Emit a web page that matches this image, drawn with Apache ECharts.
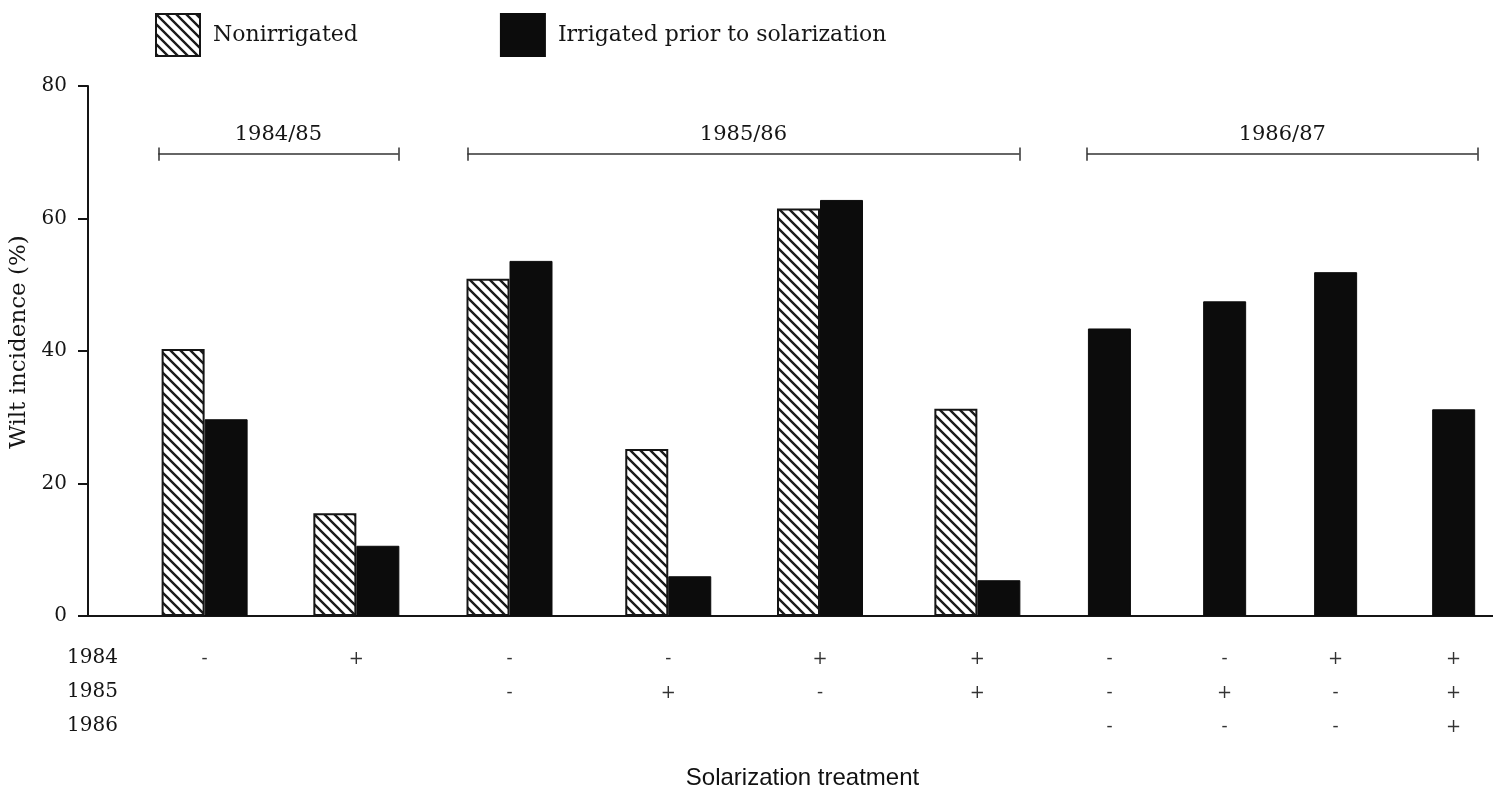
<!DOCTYPE html>
<html>
<head>
<meta charset="utf-8">
<script src="https://cdn.jsdelivr.net/npm/echarts@6/dist/echarts.min.js"></script>
<style>
html,body{margin:0;padding:0;background:#fff;}
#chart{width:1493px;height:793px;}
</style>
</head>
<body>
<div id="chart"></div>
<script>
// ---- data ----
// position of each solarization treatment along the (hidden) x scale, 0..100
const treatmentPos = [8.3, 19.1, 30.0, 41.3, 52.1, 63.3, 72.7, 80.9, 88.8, 97.2];
// solarized (+) or not (-) in each year, per treatment
const sol1984 = ['-', '+', '-', '-', '+', '+', '-', '-', '+', '+'];
const sol1985 = ['',  '',  '-', '+', '-', '+', '-', '+', '-', '+'];
const sol1986 = ['',  '',  '',  '',  '',  '',  '-', '-', '-', '+'];
const rowYears = ['1984', '1985', '1986'];
// wilt incidence (%)
const nonirrigated = [40.3, 15.5, 50.9, 25.2, 61.5, 31.3];            // treatments 1-6
const irrigated     = [29.7, 10.6, 53.6, 6.0, 62.8, 5.4];              // treatments 1-6
const irrigated8687 = [43.4, 47.5, 51.9, 31.2];                        // treatments 7-10
// season brackets
const seasons      = ['1984/85', '1985/86', '1986/87'];
const seasonStart  = [5.0, 27.0, 71.1];
const seasonEnd    = [22.1, 66.3, 98.9];
const seasonLevel  = 69.7;
const yTicks = [0, 20, 40, 60, 80];

// ---- hatch pattern ----
function hatch() {
  const s = 10;
  const c = document.createElement('canvas');
  c.width = s; c.height = s;
  const g = c.getContext('2d');
  g.fillStyle = '#fff';
  g.fillRect(0, 0, s, s);
  g.strokeStyle = '#1a1a1a';
  g.lineWidth = 2.4;
  g.beginPath();
  for (let k = -1; k <= 1; k++) {
    g.moveTo(k * s - 1, -1);
    g.lineTo(k * s + s + 1, s + 1);
  }
  g.stroke();
  return c;
}
const hatchPattern = { image: hatch(), repeat: 'repeat' };

const FONT = 'DejaVu Serif';
const INK = '#151515';

function labelFor(v) {
  let best = 0;
  treatmentPos.forEach((p, i) => { if (Math.abs(p - v) < Math.abs(treatmentPos[best] - v)) best = i; });
  const rows = [sol1984[best], sol1985[best], sol1986[best]];
  while (rows.length && rows[rows.length - 1] === '') rows.pop();
  return rows.join('\n');
}

const bracketData = [];
seasons.forEach((name, i) => {
  bracketData.push([
    { name: name, coord: [seasonStart[i], seasonLevel] },
    { coord: [seasonEnd[i], seasonLevel] }
  ]);
  [seasonStart[i], seasonEnd[i]].forEach(x => {
    bracketData.push([
      { coord: [x, seasonLevel - 1.0], label: { show: false } },
      { coord: [x, seasonLevel + 1.0], label: { show: false } }
    ]);
  });
});

const chart = echarts.init(document.getElementById('chart'), null, { renderer: 'canvas' });

chart.setOption({
  animation: false,
  backgroundColor: '#fff',
  textStyle: { fontFamily: FONT, color: INK },
  legend: {
    data: ['Nonirrigated', 'Irrigated prior to solarization'],
    left: 155,
    top: 13,
    padding: 0,
    itemWidth: 44,
    itemHeight: 42,
    itemGap: 142,
    selectedMode: false,
    icon: 'rect',
    textStyle: { fontFamily: FONT, fontSize: 22, color: INK, padding: [0, 0, 0, 8] }
  },
  grid: { left: 88, right: 0, top: 86, bottom: 177, containLabel: false, outerBoundsMode: 'none' },
  xAxis: [
    {
      type: 'value',
      min: 0,
      max: 100,
      name: 'Solarization treatment',
      nameLocation: 'middle',
      nameGap: 150,
      nameTextStyle: { fontFamily: 'Liberation Sans', fontSize: 24, color: '#111', padding: [0, 0, 0, 24] },
      axisLine: { show: true, onZero: true, lineStyle: { color: INK, width: 2 } },
      axisTick: { show: false },
      splitLine: { show: false },
      axisLabel: {
        show: true,
        customValues: treatmentPos,
        formatter: labelFor,
        fontFamily: FONT,
        fontSize: 18,
        lineHeight: 34,
        margin: 26,
        color: '#333',
        verticalAlign: 'top'
      }
    },
    { type: 'value', min: 0, max: 100, show: false }
  ],
  yAxis: {
    type: 'value',
    min: 0,
    max: 80,
    interval: 20,
    name: 'Wilt incidence (%)',
    nameLocation: 'middle',
    nameGap: 54,
    nameTextStyle: { fontFamily: FONT, fontSize: 23, color: INK, padding: [0, 0, 0, 18] },
    axisLine: { show: true, lineStyle: { color: INK, width: 2 } },
    axisTick: { show: true, inside: false, length: 10, lineStyle: { color: INK, width: 2 } },
    splitLine: { show: false },
    axisLabel: {
      fontFamily: FONT,
      fontSize: 20,
      color: INK,
      margin: 21,
      customValues: yTicks
    }
  },
  series: [
    {
      name: 'Nonirrigated',
      type: 'bar',
      xAxisIndex: 0,
      barWidth: 43,
      barGap: '0%',
      itemStyle: { color: hatchPattern, borderColor: INK, borderWidth: 2 },
      emphasis: { disabled: true },
      data: nonirrigated.map((v, i) => [treatmentPos[i], v])
    },
    {
      name: 'Irrigated prior to solarization',
      type: 'bar',
      xAxisIndex: 0,
      barWidth: 43,
      barGap: '0%',
      itemStyle: { color: '#0c0c0c', borderColor: '#0c0c0c', borderWidth: 1 },
      emphasis: { disabled: true },
      data: irrigated.map((v, i) => [treatmentPos[i], v])
    },
    {
      name: 'Irrigated prior to solarization',
      type: 'bar',
      xAxisIndex: 1,
      barWidth: 43,
      itemStyle: { color: '#0c0c0c', borderColor: '#0c0c0c', borderWidth: 1 },
      emphasis: { disabled: true },
      data: irrigated8687.map((v, i) => [treatmentPos[6 + i], v]),
      markLine: {
        silent: true,
        symbol: ['none', 'none'],
        lineStyle: { color: '#333', width: 1.5, type: 'solid' },
        emphasis: { disabled: true },
        label: {
          show: true,
          position: 'middle',
          formatter: '{b}',
          fontFamily: FONT,
          fontSize: 21,
          color: INK,
          distance: 9
        },
        data: bracketData
      }
    }
  ],
  graphic: rowYears.map((yr, i) => ({
    type: 'text',
    right: 1493 - 118,
    top: 648 + i * 34,
    style: { text: yr, font: '20px "' + FONT + '"', fill: INK, textAlign: 'right' }
  }))
});
</script>
</body>
</html>
